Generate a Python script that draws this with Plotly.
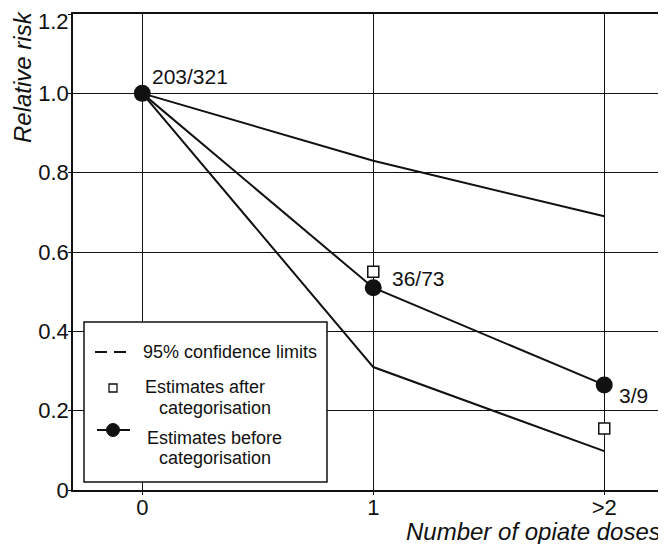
import plotly.graph_objects as go

# ---- data ----
doses = [0, 1, 2]
dose_labels = ["0", "1", ">2"]
estimate_before = [1.0, 0.51, 0.265]
estimate_after = [None, 0.55, 0.155]
upper_ci = [1.0, 0.83, 0.69]
lower_ci = [1.0, 0.31, 0.098]
counts = ["203/321", "36/73", "3/9"]
count_shift_x = [8, 17, 13]
count_shift_y = [17, 9, -11]
y_ticks = [0, 0.2, 0.4, 0.6, 0.8, 1.0, 1.2]
y_tick_labels = ["0", "0.2", "0.4", "0.6", "0.8", "1.0", "1.2"]

# page has an 8px body margin; figure sized to fit the 666x544 window
OFF = 8
W, H = 666 - OFF, 544 - OFF
# plot area in window pixels: x 73..662, y 14..490
ML, MT = 73 - OFF, 14 - OFF
MR = W - (662 - OFF)
MB = H - (490 - OFF)
PW, PH = W - ML - MR, H - MT - MB
FONT = "Arial, Liberation Sans, sans-serif"
INK = "#111111"


def px(X):
    return (X - OFF - ML) / PW


def py(Y):
    return (H - MB - (Y - OFF)) / PH


fig = go.Figure()

for ci in (upper_ci, lower_ci):
    fig.add_trace(go.Scatter(x=doses, y=ci, mode="lines",
                             line=dict(color=INK, width=2), showlegend=False,
                             hoverinfo="skip"))

fig.add_trace(go.Scatter(x=doses, y=estimate_before, mode="lines",
                         line=dict(color=INK, width=2), showlegend=False))
fig.add_trace(go.Scatter(x=doses, y=estimate_after, mode="markers",
                         marker=dict(symbol="square", size=11, color="white",
                                     line=dict(color=INK, width=1.5)),
                         showlegend=False))
fig.add_trace(go.Scatter(x=doses, y=estimate_before, mode="markers",
                         marker=dict(symbol="circle", size=17, color=INK),
                         showlegend=False))

for xv, yv, txt, sx, sy in zip(doses, estimate_before, counts, count_shift_x, count_shift_y):
    fig.add_annotation(x=xv, y=yv, text=txt, showarrow=False, xanchor="left",
                       yanchor="middle", xshift=sx, yshift=sy,
                       font=dict(family=FONT, size=21, color=INK))

# top y tick label sits just inside the figure edge (as in the reference)
fig.add_annotation(xref="paper", yref="y", x=0, y=y_ticks[-1], text=y_tick_labels[-1],
                   showarrow=False, xanchor="right", yanchor="middle",
                   xshift=-2, yshift=-7, font=dict(family=FONT, size=22, color=INK))

# axis titles
fig.add_annotation(xref="paper", yref="paper", x=px(23), y=py(77), text="<i>Relative risk</i>",
                   textangle=-90, showarrow=False, xanchor="center", yanchor="middle",
                   font=dict(family=FONT, size=24, color=INK))
fig.add_annotation(xref="paper", yref="paper", x=px(663), y=py(531),
                   text="<i>Number of opiate doses</i>", showarrow=False,
                   xanchor="right", yanchor="middle",
                   font=dict(family=FONT, size=24, color=INK))

# custom legend box
shapes = [
    dict(type="rect", xref="paper", yref="paper", x0=px(84), x1=px(327), y0=py(482), y1=py(322),
         fillcolor="white", line=dict(color=INK, width=1.5), layer="above"),
    dict(type="line", xref="paper", yref="paper", x0=px(95), x1=px(133), y0=py(352), y1=py(352),
         line=dict(color=INK, width=2, dash="12px,7px"), layer="above"),
    dict(type="rect", xref="paper", yref="paper", x0=px(109), x1=px(117), y0=py(392), y1=py(384),
         fillcolor="white", line=dict(color=INK, width=1.3), layer="above"),
    dict(type="line", xref="paper", yref="paper", x0=px(97), x1=px(130), y0=py(430), y1=py(430),
         line=dict(color=INK, width=2), layer="above"),
    dict(type="circle", xref="paper", yref="paper", x0=px(106.5), x1=px(119.5), y0=py(436.5), y1=py(423.5),
         fillcolor=INK, line=dict(color=INK, width=1), layer="above"),
]
fig.update_layout(shapes=shapes)

legend_texts = [
    ("95% confidence limits", 141, 352),
    ("Estimates after", 143, 387),
    ("categorisation", 157, 408),
    ("Estimates before", 145, 438),
    ("categorisation", 157, 458),
]
for txt, X, Y in legend_texts:
    fig.add_annotation(xref="paper", yref="paper", x=px(X), y=py(Y), text=txt,
                       showarrow=False, xanchor="left", yanchor="middle",
                       font=dict(family=FONT, size=18, color=INK))

fig.update_xaxes(range=[-0.30, 2.25], tickvals=doses, ticktext=dose_labels,
                 showgrid=True, gridcolor=INK, gridwidth=1.3, zeroline=False,
                 showline=True, linecolor=INK, linewidth=1.5, mirror=True,
                 ticks="outside", ticklen=3, tickcolor=INK, tickwidth=1.3,
                 ticklabelstandoff=-6, automargin=False,
                 tickfont=dict(family=FONT, size=22, color=INK))
fig.update_yaxes(range=[0, 1.2001], tickvals=y_ticks,
                 ticktext=y_tick_labels[:-1] + [""],
                 showgrid=True, gridcolor=INK, gridwidth=1.3, zeroline=False,
                 showline=True, linecolor=INK, linewidth=1.5, mirror=True,
                 ticks="outside", ticklen=3, tickcolor=INK, tickwidth=1.3,
                 ticklabelstandoff=-5, ticklabeloverflow="allow", automargin=False,
                 tickfont=dict(family=FONT, size=22, color=INK))

fig.update_layout(width=W, height=H, margin=dict(l=ML, r=MR, t=MT, b=MB),
                  plot_bgcolor="white", paper_bgcolor="white", showlegend=False,
                  font=dict(family=FONT, color=INK))

fig.write_html("out.html")
